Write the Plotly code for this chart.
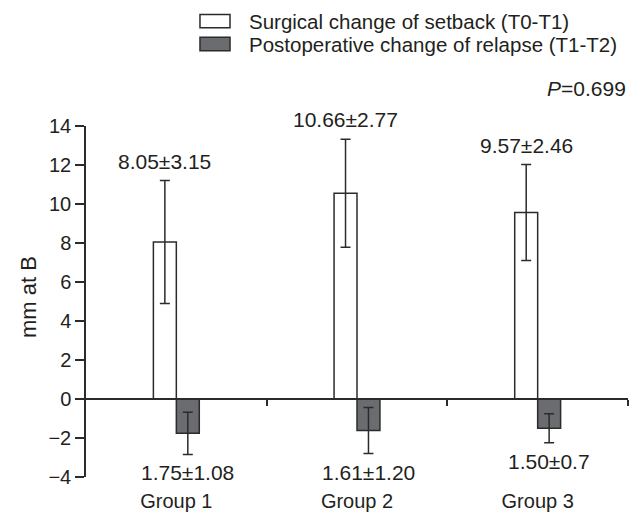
import plotly.graph_objects as go

groups = ["Group 1", "Group 2", "Group 3"]
setback_mean = [8.05, 10.55, 9.56]
setback_sd = [3.15, 2.77, 2.46]
relapse_mean = [-1.76, -1.62, -1.50]
relapse_sd = [1.08, 1.18, 0.74]
setback_labels = ["8.05±3.15", "10.66±2.77", "9.57±2.46"]
relapse_labels = ["1.75±1.08", "1.61±1.20", "1.50±0.7"]
legend_names = ["Surgical change of setback (T0-T1)", "Postoperative change of relapse (T1-T2)"]
y_ticks = [-4, -2, 0, 2, 4, 6, 8, 10, 12, 14]

FONT = "Liberation Sans, Arial, sans-serif"
TXT = "#231f20"
LINE = "#2b2b2b"
DARK = "#6b6c70"
BW = 0.127
xpos = list(range(len(groups)))

fig = go.Figure()
fig.add_trace(go.Bar(
    x=[x - BW / 2 for x in xpos], y=setback_mean, width=BW, name=legend_names[0],
    marker=dict(color="white", line=dict(color=LINE, width=1.5)),
    error_y=dict(type="data", array=setback_sd, color=LINE, thickness=1.5, width=5),
    showlegend=False))
fig.add_trace(go.Bar(
    x=[x + BW / 2 for x in xpos], y=relapse_mean, width=BW, name=legend_names[1],
    marker=dict(color=DARK, line=dict(color=LINE, width=1.5)),
    error_y=dict(type="data", array=relapse_sd, color=LINE, thickness=1.5, width=5),
    showlegend=False))
# invisible trace to carry the zero-line axis
fig.add_trace(go.Scatter(x=[0], y=[0], xaxis="x2", mode="none", showlegend=False, hoverinfo="skip"))

ann = []
for i in xpos:
    ann.append(dict(x=i - BW / 2, y=setback_mean[i] + setback_sd[i], text=setback_labels[i],
                    xref="x", yref="y", showarrow=False, yanchor="bottom", yshift=6,
                    font=dict(size=21, color=TXT, family=FONT)))
    ann.append(dict(x=i + BW / 2, y=relapse_mean[i] - relapse_sd[i], text=relapse_labels[i],
                    xref="x", yref="y", showarrow=False, yanchor="top", yshift=-5,
                    font=dict(size=21, color=TXT, family=FONT)))

# legend (manual, wide swatches)
leg_y = [1.299, 1.2336]
fills = ["white", DARK]
shapes = []
for k in range(2):
    shapes.append(dict(type="rect", xref="paper", yref="paper",
                       x0=0.2103, x1=0.2657, y0=leg_y[k] - 0.019, y1=leg_y[k] + 0.019,
                       fillcolor=fills[k], line=dict(color=LINE, width=1.5)))
    ann.append(dict(x=0.297, y=leg_y[k], xref="paper", yref="paper", text=legend_names[k],
                    showarrow=False, xanchor="left", yanchor="middle",
                    font=dict(size=20.5, color=TXT, family=FONT)))

ann.append(dict(x=1.0, y=1.108, xref="paper", yref="paper", text="<i>P</i>=0.699",
                showarrow=False, xanchor="right", yanchor="middle",
                font=dict(size=21, color=TXT, family=FONT)))
ann.append(dict(x=-0.105, y=0.513, xref="paper", yref="paper", text="mm at B", textangle=-90,
                showarrow=False, xanchor="center", yanchor="middle",
                font=dict(size=22, color=TXT, family=FONT)))

# the page body adds an 8px offset; size the figure so the plot area lands where intended
fig.update_layout(
    width=634, height=504,
    margin=dict(l=78, r=14, t=118, b=35),
    paper_bgcolor="white", plot_bgcolor="white",
    font=dict(family=FONT, size=20, color=TXT),
    barmode="overlay",
    xaxis=dict(range=[-0.5, 2.5], tickvals=xpos, ticktext=groups, ticks="",
               showline=False, showgrid=False, zeroline=False, automargin=False,
               tickfont=dict(size=20), ticklabelstandoff=10),
    xaxis2=dict(range=[-0.5, 2.5], overlaying="x", anchor="free", position=4 / 18,
                side="bottom", showline=True, linecolor=LINE, linewidth=1.5, automargin=False,
                ticks="outside", tickvals=[0.5, 1.5, 2.5], ticklen=6, tickwidth=1.5,
                tickcolor=LINE, showticklabels=False, showgrid=False, zeroline=False),
    yaxis=dict(range=[-4, 14], tickvals=y_ticks, showline=True, linecolor=LINE, linewidth=1.5,
               ticks="outside", ticklen=9, tickwidth=1.5, tickcolor=LINE, automargin=False,
               showgrid=False, zeroline=False, tickfont=dict(size=20)),
    annotations=ann, shapes=shapes,
)

fig.write_html("out.html")
